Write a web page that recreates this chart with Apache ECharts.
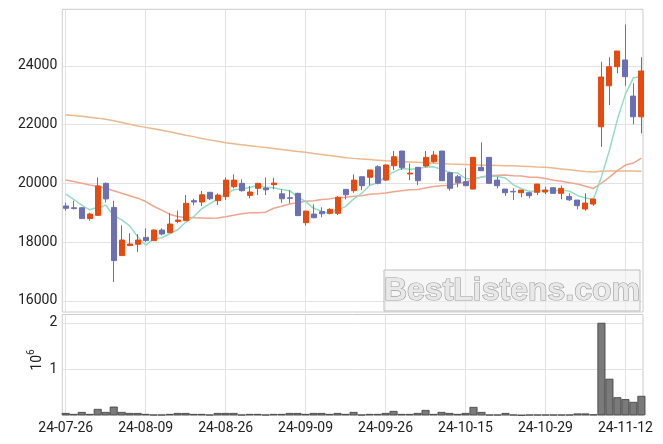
<!DOCTYPE html>
<html><head><meta charset="utf-8">
<script src="https://cdn.jsdelivr.net/npm/echarts@6/dist/echarts.min.js"></script>
<style>html,body{margin:0;padding:0;background:#fff}#c{width:663px;height:444px}</style>
</head><body><div id="c"></div>
<script>
const dates = ['24-07-26','24-07-29','24-07-30','24-07-31','24-08-01','24-08-02','24-08-05','24-08-06','24-08-07','24-08-08',
'24-08-09','24-08-12','24-08-13','24-08-14','24-08-16','24-08-19','24-08-20','24-08-21','24-08-22','24-08-23',
'24-08-26','24-08-27','24-08-28','24-08-29','24-08-30','24-09-02','24-09-03','24-09-04','24-09-05','24-09-06',
'24-09-09','24-09-10','24-09-11','24-09-12','24-09-13','24-09-19','24-09-20','24-09-23','24-09-24','24-09-25',
'24-09-26','24-09-27','24-09-30','24-10-02','24-10-04','24-10-07','24-10-08','24-10-10','24-10-11','24-10-14',
'24-10-15','24-10-16','24-10-17','24-10-18','24-10-21','24-10-22','24-10-23','24-10-24','24-10-25','24-10-28',
'24-10-29','24-10-30','24-10-31','24-11-01','24-11-04','24-11-05','24-11-06','24-11-07','24-11-08','24-11-11',
'24-11-12','24-11-13','24-11-14'];
const opens = [19230,19170,19170,18800,18910,20000,19180,17540,17880,17925,
18160,18050,18410,18320,18705,18730,19410,19365,19695,19410,
19545,19885,20000,19590,19830,19840,19955,19645,19510,19660,
18660,18955,19035,18980,18980,19795,19750,20225,20205,20565,
20110,20600,21100,20320,20545,20590,20735,21100,20360,20225,
20055,19805,20545,20885,20110,19805,19725,19680,19680,19695,
19705,19850,19660,19555,19430,19125,19295,21925,23320,23970,
24200,22970,22265];
const closes = [19150,19140,18800,18955,19910,19470,17370,18070,17935,18070,
18050,18410,18275,18615,18750,19320,19365,19610,19475,19600,
20110,20110,19750,19705,20000,19780,20010,19475,19490,18900,
19055,18830,18965,19115,19525,19610,20110,19920,20455,20000,
20625,20905,20530,20350,20090,20885,20965,20090,19830,20020,
19920,20885,20430,20000,19920,19680,19710,19770,19580,19975,
19770,19660,19830,19440,19240,19330,19465,23620,23970,24505,
23630,22265,23825];
const highs = [19340,19410,19190,19000,20200,20030,19410,18570,18300,18270,
18470,18435,18470,18980,19070,19600,19475,19740,19700,19660,
20200,20305,20135,19910,20020,20200,20190,19795,19770,19680,
19060,19285,19185,19150,19570,19800,20305,20230,20460,20620,
20645,21100,21100,20680,20550,21100,21100,21100,20395,20285,
20510,20890,21395,20890,20225,19810,19830,19775,19715,19980,
19885,19860,19920,19660,19435,19660,19470,24140,24290,24505,
25410,23405,24290];
const lows = [19070,19115,18790,18730,18900,19350,16640,17530,17860,17660,
18000,18040,18230,18310,18640,18720,19250,19230,19430,19260,
19430,19830,19715,19490,19600,19600,19800,19340,19320,18890,
18560,18810,18845,18945,18920,19455,19680,19770,19940,19965,
20080,20455,20455,20110,19940,20545,20700,20080,19750,19865,
19900,19800,20420,19990,19830,19570,19430,19525,19490,19600,
19635,19655,19455,19400,19115,19065,19235,21245,22665,23745,
23320,22010,21700];
const volumes = [50000,29000,72000,29000,138000,72000,188000,72000,50000,50000,
29000,14000,14000,29000,50000,50000,29000,29000,14000,50000,
50000,50000,14000,29000,29000,14000,29000,29000,50000,50000,
29000,50000,50000,29000,50000,29000,72000,14000,29000,29000,
50000,94000,29000,29000,50000,116000,29000,72000,50000,29000,
50000,181000,72000,14000,14000,50000,14000,3000,14000,14000,
14000,14000,14000,14000,40000,40000,20000,2000000,790000,390000,
350000,290000,420000];
const ma5 = [19630,19450,19260,19100,19191,19255,18901,18755,18551,18183,
17899,18107,18148,18284,18420,18674,18865,19132,19304,19474,
19632,19781,19809,19855,19935,19869,19849,19794,19751,19531,
19386,19150,19048,18973,19098,19209,19465,19656,19924,20019,
20222,20381,20503,20482,20500,20552,20564,20476,20372,20358,
20165,20149,20217,20251,20231,20183,19948,19816,19732,19743,
19761,19751,19763,19735,19588,19500,19461,20219,21125,22178,
23038,23598,23639];
const ma20 = [20110,20060,20000,19940,19905,19830,19750,19660,19580,19495,
19380,19220,19090,18950,18870,18840,18830,18820,18810,18817,
18865,18914,18961,18999,19003,19019,19151,19221,19299,19340,
19390,19411,19446,19471,19510,19524,19561,19577,19626,19646,
19672,19711,19750,19783,19787,19842,19890,19921,19938,19994,
20037,20140,20213,20257,20277,20281,20261,20253,20209,20208,
20165,20103,20068,20023,19980,19902,19827,20004,20211,20435,
20621,20690,20859];
const maLong = [22335,22310,22280,22250,22220,22180,22130,22070,22010,21955,
21905,21855,21805,21755,21700,21640,21590,21530,21480,21430,
21380,21345,21310,21280,21250,21220,21190,21155,21120,21085,
21055,21015,20980,20945,20910,20875,20850,20830,20810,20790,
20770,20755,20740,20728,20715,20700,20685,20672,20660,20650,
20640,20630,20620,20615,20610,20600,20595,20585,20570,20555,
20545,20520,20490,20460,20430,20400,20390,20410,20420,20420,
20420,20420,20415];
const priceTicks = [16000,18000,20000,22000,24000];
const volTicks = [1000000,2000000];
const labelIdx = [0,10,20,30,40,50,60,70];

const idx = dates.map((d,i)=>i);
const candleData = idx.map(i=>[i, opens[i], closes[i], lows[i], highs[i]]);
const volData = idx.map(i=>[i, volumes[i]]);
const line = arr => idx.map(i=>[i, arr[i]]);

const UP='#e8490f', DOWN='#6b70b6';
const gridColor='#e2e2e2';
const font='Roboto';
const chart = echarts.init(document.getElementById('c'));
chart.setOption({
  animation:false,
  backgroundColor:'#ffffff',
  grid:[
    {left:62.3, top:9.3, width:580.7, height:302.7, show:true, borderColor:'#cccccc', borderWidth:1, backgroundColor:'transparent'},
    {left:62.3, top:314.5, width:580.7, height:100.8, show:true, borderColor:'#cccccc', borderWidth:1, backgroundColor:'transparent'}
  ],
  xAxis:[
    {type:'value', gridIndex:0, min:-0.43, max:72.2,
     axisLine:{show:false}, axisTick:{show:false, customValues:labelIdx},
     axisLabel:{show:false, customValues:labelIdx},
     splitLine:{show:true, lineStyle:{color:gridColor, width:1}}},
    {type:'value', gridIndex:1, min:-0.43, max:72.2,
     axisLine:{show:false}, axisTick:{show:false, customValues:labelIdx},
     axisLabel:{show:true, customValues:labelIdx, margin:6, fontSize:14, color:'#222', fontFamily:font,
       formatter:v=> (Number.isInteger(v) && dates[v]) ? dates[v] : ''},
     splitLine:{show:true, lineStyle:{color:gridColor, width:1}}}
  ],
  yAxis:[
    {type:'value', gridIndex:0, min:15620, max:25925, scale:true,
     axisLine:{show:false}, axisTick:{show:false, customValues:priceTicks},
     axisLabel:{customValues:priceTicks, margin:5, fontSize:14, color:'#222', fontFamily:font,
       formatter:v=> priceTicks.includes(v) ? String(v) : ''},
     splitLine:{show:true, lineStyle:{color:gridColor, width:1}}},
    {type:'value', gridIndex:1, min:0, max:2180000, interval:1000000,
     axisLine:{show:false}, axisTick:{show:false, customValues:volTicks},
     axisLabel:{customValues:volTicks, margin:5, fontSize:14, color:'#222', fontFamily:font,
       formatter:v=> volTicks.includes(v) ? String(v/1000000) : ''},
     splitLine:{show:true, lineStyle:{color:gridColor, width:1}}}
  ],
  series:[
    {type:'line', xAxisIndex:0, yAxisIndex:0, data:line(maLong), symbol:'none', z:1,
     lineStyle:{color:'#ecb88c', width:1.5}},
    {type:'line', xAxisIndex:0, yAxisIndex:0, data:line(ma20), symbol:'none', z:1,
     lineStyle:{color:'#f0a68e', width:1.5}},
    {type:'line', xAxisIndex:0, yAxisIndex:0, data:line(ma5), symbol:'none', z:1,
     lineStyle:{color:'#94dcc4', width:1.5}},
    {type:'candlestick', xAxisIndex:0, yAxisIndex:0, data:candleData, barWidth:5.5, z:3, clip:true,
     itemStyle:{color:UP, color0:DOWN, borderColor:UP, borderColor0:DOWN, borderWidth:1}},
    {type:'bar', xAxisIndex:1, yAxisIndex:1, data:volData, barWidth:8, z:2,
     itemStyle:{color:'#7a7a7a', borderColor:'#3c3c3c', borderWidth:0.8}}
  ],
  graphic:[
    {type:'text', x:35, y:360, rotation:Math.PI/2, z:10,
     style:{text:'{a|10}{b|6}', align:'center', verticalAlign:'middle', fill:'#222',
       rich:{a:{fontSize:14, fontFamily:font, fill:'#222', verticalAlign:'bottom', lineHeight:18},
             b:{fontSize:10, fontFamily:font, fill:'#222', verticalAlign:'top', lineHeight:18}}}},
    {type:'rect', z:5, shape:{x:384, y:270, width:256, height:41},
     style:{fill:'rgba(238,238,238,0.55)', stroke:'#bdbdbd', lineWidth:1}},
    {type:'text', z:6, x:512, y:291,
     style:{text:'BestListens.com', align:'center', verticalAlign:'middle',
       font:'bold 32px "Liberation Sans", Arial, sans-serif', fill:'#e8e8e8', stroke:'#9a9a9a', lineWidth:1.2}}
  ]
});
</script></body></html>
